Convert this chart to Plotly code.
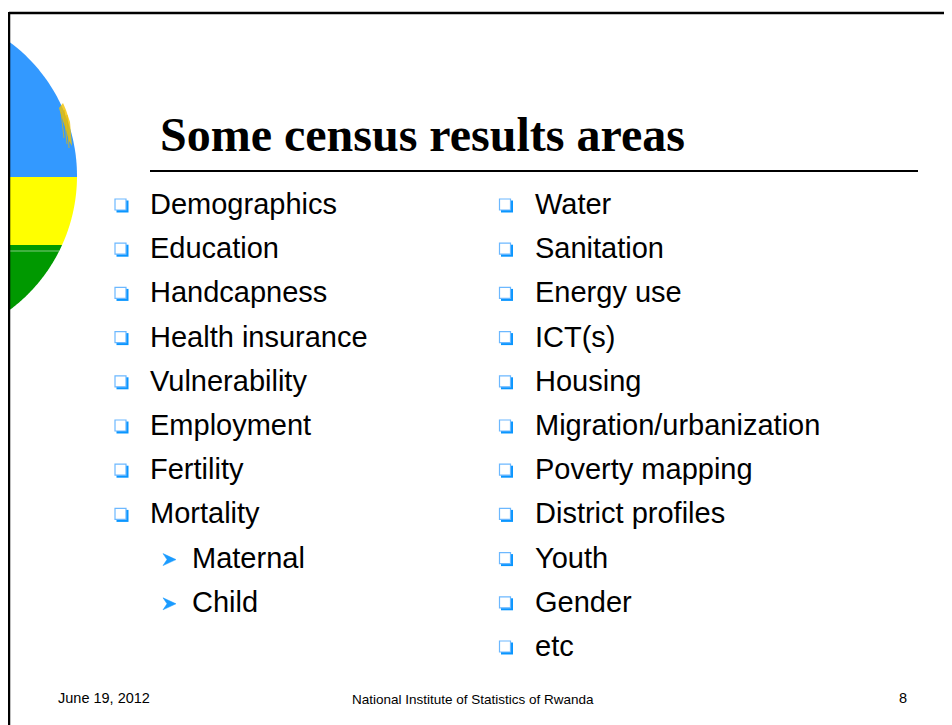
import numpy as np
import plotly.graph_objects as go

title = "Some census results areas"
left_items = ["Demographics", "Education", "Handcapness", "Health insurance",
              "Vulnerability", "Employment", "Fertility", "Mortality"]
left_sub = ["Maternal", "Child"]
right_items = ["Water", "Sanitation", "Energy use", "ICT(s)", "Housing",
               "Migration/urbanization", "Poverty mapping", "District profiles",
               "Youth", "Gender", "etc"]
footer_date = "June 19, 2012"
footer_org = "National Institute of Statistics of Rwanda"
page_no = "8"

W, H = 952, 725
OFF = 8  # default page body margin; coordinates below are window pixels
row0, dy = 204, 44.2

fig = go.Figure()
shapes = []
ann = []

# ---- flag disc (clipped on the left by the frame) ----
cx, cy, r = -90.0, 176.0, 167.0
xl = 9.5
def xr(y):
    return cx + np.sqrt(np.maximum(r**2 - (y - cy)**2, 0))
ytop = cy - np.sqrt(r**2 - (xl - cx)**2)
ybot = cy + np.sqrt(r**2 - (xl - cx)**2)
def band(y0, y1, col):
    ys = np.linspace(y0, y1, 60)
    pts = [(xl, y0)] + [(xr(y), y) for y in ys] + [(xl, y1)]
    p = "M " + " L ".join(f"{x:.2f},{y:.2f}" for x, y in pts) + " Z"
    shapes.append(dict(type="path", path=p, xref="x", yref="y",
                       fillcolor=col, line=dict(width=0), layer="below"))
band(ytop, 177, "#3399FF")
band(177, 245, "#FFFF00")
band(245, ybot, "#009900")
shapes.append(dict(type="line", x0=xl, x1=xr(251), y0=251, y1=251, xref="x", yref="y",
                   line=dict(color="#7FC97F", width=1)))
# sun rays
sun = "M 59,108 L 63,103 L 66,110 L 70,122 L 72,146 L 69,141 L 66,130 L 62,118 Z"
shapes.append(dict(type="path", path=sun, xref="x", yref="y",
                   fillcolor="#F2C200", opacity=0.8, line=dict(width=0)))
for x0, y0, x1, y1 in [(61, 112, 64, 138), (64, 110, 67, 144), (67, 115, 69, 148)]:
    shapes.append(dict(type="line", x0=x0, y0=y0, x1=x1, y1=y1, xref="x", yref="y",
                       line=dict(color="#E8B800", width=1), opacity=0.7))

# ---- frame ----
shapes.append(dict(type="line", x0=9, x1=W + 5, y0=13, y1=13, xref="x", yref="y",
                   line=dict(color="black", width=2.5)))
shapes.append(dict(type="line", x0=9, x1=9, y0=12, y1=H + 5, xref="x", yref="y",
                   line=dict(color="black", width=2.5)))

# ---- title ----
ann.append(dict(x=158, y=134, text=f"<b>{title}</b>", xanchor="left", yanchor="middle",
                showarrow=False, font=dict(family="Liberation Serif", size=48, color="black")))
shapes.append(dict(type="line", x0=150, x1=918, y0=171, y1=171, xref="x", yref="y",
                   line=dict(color="black", width=2)))

# ---- bullets ----
def square_bullet(bx, by):
    shapes.append(dict(type="rect", x0=bx - 5, x1=bx + 7, y0=by - 5, y1=by + 7,
                       xref="x", yref="y", fillcolor="#0A96FF", line=dict(width=0)))
    shapes.append(dict(type="rect", x0=bx - 6.5, x1=bx + 4.5, y0=by - 6.5, y1=by + 4.5,
                       xref="x", yref="y", fillcolor="white",
                       line=dict(color="#6CB8FF", width=1.2)))

def arrow_bullet(bx, by):
    p = (f"M {bx-6},{by-6} L {bx+7},{by} L {bx-6},{by+6} L {bx-2},{by} Z")
    shapes.append(dict(type="path", path=p, xref="x", yref="y",
                       fillcolor="#1A9BFF", line=dict(color="#1A9BFF", width=0.5)))

def item(tx, ty, txt):
    ann.append(dict(x=tx, y=ty, text=txt, xanchor="left", yanchor="middle",
                    showarrow=False,
                    font=dict(family="Liberation Sans", size=29, color="black")))

for i, t in enumerate(left_items):
    y = row0 + dy * i
    square_bullet(121.5, y + 1.5)
    item(148, y, t)
for j, t in enumerate(left_sub):
    y = row0 + dy * (len(left_items) + j)
    arrow_bullet(169, y + 2)
    item(190, y, t)
for i, t in enumerate(right_items):
    y = row0 + dy * i
    square_bullet(506, y + 1.5)
    item(533, y, t)

# ---- footer ----
ann.append(dict(x=56, y=698, text=footer_date, xanchor="left", yanchor="middle",
                showarrow=False, font=dict(family="Liberation Sans", size=14.5, color="black")))
ann.append(dict(x=473, y=699, text=footer_org, xanchor="center", yanchor="middle",
                showarrow=False, font=dict(family="Liberation Sans", size=13.5, color="black")))
ann.append(dict(x=903, y=698, text=page_no, xanchor="center", yanchor="middle",
                showarrow=False, font=dict(family="Liberation Sans", size=14.5, color="black")))

fig.update_layout(
    width=W - OFF, height=H - OFF, margin=dict(l=0, r=0, t=0, b=0),
    paper_bgcolor="white", plot_bgcolor="white",
    xaxis=dict(range=[OFF, W], visible=False, fixedrange=True),
    yaxis=dict(range=[H, OFF], visible=False, fixedrange=True),
    shapes=shapes, annotations=ann, showlegend=False,
)
fig.write_html("out.html", config={"displayModeBar": False})
